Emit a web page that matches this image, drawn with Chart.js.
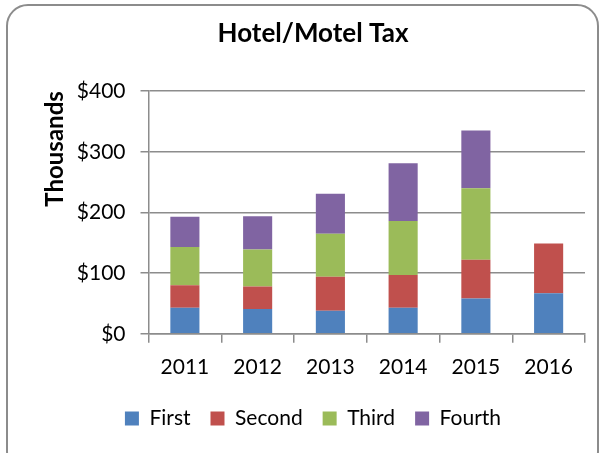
<!DOCTYPE html>
<html><head><meta charset="utf-8">
<script src="https://cdn.jsdelivr.net/npm/chart.js@4"></script>
<style>
html,body{margin:0;padding:0;background:#fff;width:607px;height:453px;overflow:hidden}
#frame{position:absolute;left:6px;top:4px;width:593px;height:470px;border:2px solid #8c8c8c;border-radius:22px;box-sizing:border-box}
#wrap{position:absolute;left:0;top:0;width:607px;height:453px}
</style></head><body>
<div id="frame"></div>
<div id="wrap"><canvas id="c" width="607" height="453"></canvas></div>
<script>
const categories = ["2011","2012","2013","2014","2015","2016"];
const first  = [43, 41, 38, 43, 58, 67];
const second = [37, 37, 56, 54, 64, 82];
const third  = [63, 61, 71, 89, 118, null];
const fourth = [50, 55, 66, 95, 95, null];
const yTicks = [0, 100, 200, 300, 400];
const seriesNames = ["First","Second","Third","Fourth"];
const colors = ["#4F81BD","#C0504D","#9BBB59","#8064A2"];
const FONT = "Lato, 'Open Sans', sans-serif";

new Chart(document.getElementById('c'), {
  type: 'bar',
  data: {
    labels: categories,
    datasets: [first, second, third, fourth].map((d, i) => ({
      label: seriesNames[i], data: d, backgroundColor: colors[i],
      borderWidth: 0, categoryPercentage: 1, barPercentage: 0.4
    }))
  },
  options: {
    responsive: false, animation: false,
    layout: { padding: { left: 41, right: 22, top: 0, bottom: 14 } },
    plugins: {
      title: { display: true, text: 'Hotel/Motel Tax', color: '#000',
        font: { family: FONT, size: 26, weight: 'bold' }, padding: { top: 18, bottom: 42 } },
      legend: { position: 'bottom', labels: { color: '#000', boxWidth: 14, boxHeight: 14,
        padding: 20, font: { family: FONT, size: 21 } } },
      tooltip: { enabled: false }
    },
    scales: {
      x: { stacked: true,
        afterFit: s => { s.height -= 4; },
        grid: { offset: true, drawOnChartArea: false, color: '#8c8c8c', lineWidth: 1.5, tickLength: 9 },
        border: { color: '#8c8c8c', width: 1.5 },
        ticks: { color: '#000', font: { family: FONT, size: 21 }, padding: 12 } },
      y: { stacked: true, min: 0, max: 400,
        afterFit: s => { s.width -= 13; },
        afterBuildTicks: ax => { ax.ticks = yTicks.map(v => ({ value: v })); },
        grid: { color: '#8c8c8c', lineWidth: 1.5, tickLength: 8 },
        border: { color: '#8c8c8c', width: 1.5 },
        ticks: { color: '#000', font: { family: FONT, size: 21 }, padding: 15,
          callback: v => '$' + v },
        title: { display: true, text: 'Thousands', color: '#000', align: 'end',
          font: { family: FONT, size: 24, weight: 'bold' }, padding: { top: 0, bottom: 5 } } }
    }
  }
});
</script>
</body></html>
